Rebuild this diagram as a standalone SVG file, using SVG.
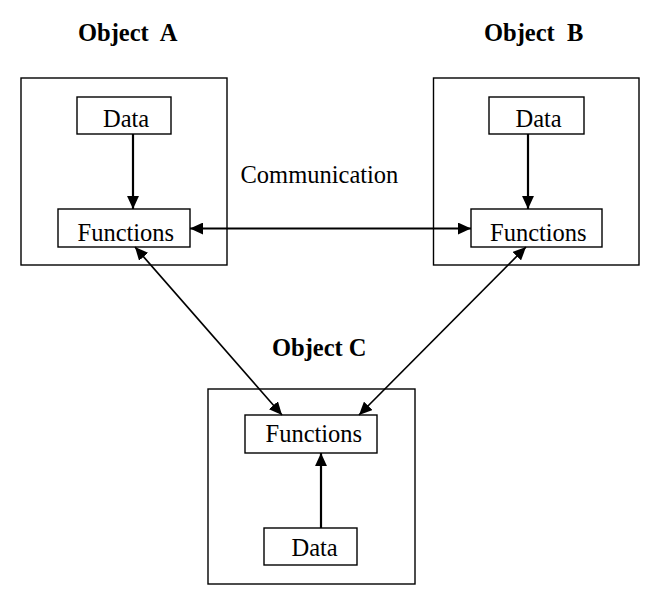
<svg xmlns="http://www.w3.org/2000/svg" width="652" height="599" viewBox="0 0 652 599">
  <style>
    .outer { fill: #fff; stroke: #000; stroke-width: 1.4; }
    .inner { fill: #fff; stroke: #000; stroke-width: 1.4; }
    .lbl { font-family: "Liberation Serif", "Times New Roman", serif; font-size: 24.5px; fill: #000; }
    .title { font-family: "Liberation Serif", "Times New Roman", serif; font-size: 24.5px; font-weight: bold; fill: #000; }
    .conn { stroke: #000; stroke-width: 2.2; fill: none; }
    .diag { stroke: #000; stroke-width: 1.7; fill: none; }
  </style>
  <defs>
    <marker id="ah" markerUnits="userSpaceOnUse" markerWidth="13" markerHeight="12" refX="12" refY="5.5" orient="auto-start-reverse" viewBox="0 0 12 11">
      <path d="M0,0 L12,5.5 L0,11 z" fill="#000"/>
    </marker>
  </defs>
  <rect width="652" height="599" fill="#fff"/>

  <g id="objectA">
    <text class="title" x="78" y="40.5" xml:space="preserve">Object  A</text>
    <rect class="outer" x="21" y="78" width="206" height="187"/>
    <g id="dataA">
      <rect class="inner" x="77" y="97" width="94" height="37"/>
      <text class="lbl" x="103" y="126.5">Data</text>
    </g>
    <g id="functionsA">
      <rect class="inner" x="58" y="209" width="132" height="38"/>
      <text class="lbl" x="77.5" y="240.5">Functions</text>
    </g>
  </g>

  <g id="objectB">
    <text class="title" x="484" y="40.5" xml:space="preserve">Object  B</text>
    <rect class="outer" x="433.5" y="78" width="205.5" height="187"/>
    <g id="dataB">
      <rect class="inner" x="489" y="97" width="95" height="37"/>
      <text class="lbl" x="515.5" y="126.5">Data</text>
    </g>
    <g id="functionsB">
      <rect class="inner" x="471" y="209" width="131" height="38"/>
      <text class="lbl" x="490" y="240.5">Functions</text>
    </g>
  </g>

  <g id="objectC">
    <text class="title" x="272" y="355.5">Object C</text>
    <rect class="outer" x="208" y="389" width="207" height="195"/>
    <g id="functionsC">
      <rect class="inner" x="245" y="415" width="132" height="38"/>
      <text class="lbl" x="265.5" y="441.5">Functions</text>
    </g>
    <g id="dataC">
      <rect class="inner" x="264" y="528" width="93" height="37"/>
      <text class="lbl" x="291.5" y="556">Data</text>
    </g>
  </g>

  <g id="commLabel">
    <text class="lbl" x="240.5" y="183">Communication</text>
  </g>

  <g id="connectors">
    <line class="conn" x1="133" y1="134" x2="133" y2="209" marker-end="url(#ah)"/>
    <line class="conn" x1="528" y1="134" x2="528" y2="209" marker-end="url(#ah)"/>
    <line class="conn" x1="321" y1="528" x2="321" y2="453" marker-end="url(#ah)"/>
    <line class="conn" x1="190" y1="228.5" x2="471" y2="228.5" marker-start="url(#ah)" marker-end="url(#ah)"/>
    <line class="diag" x1="135" y1="247" x2="282" y2="415" marker-start="url(#ah)" marker-end="url(#ah)"/>
    <line class="diag" x1="526" y1="247" x2="359" y2="415" marker-start="url(#ah)" marker-end="url(#ah)"/>
  </g>
</svg>
